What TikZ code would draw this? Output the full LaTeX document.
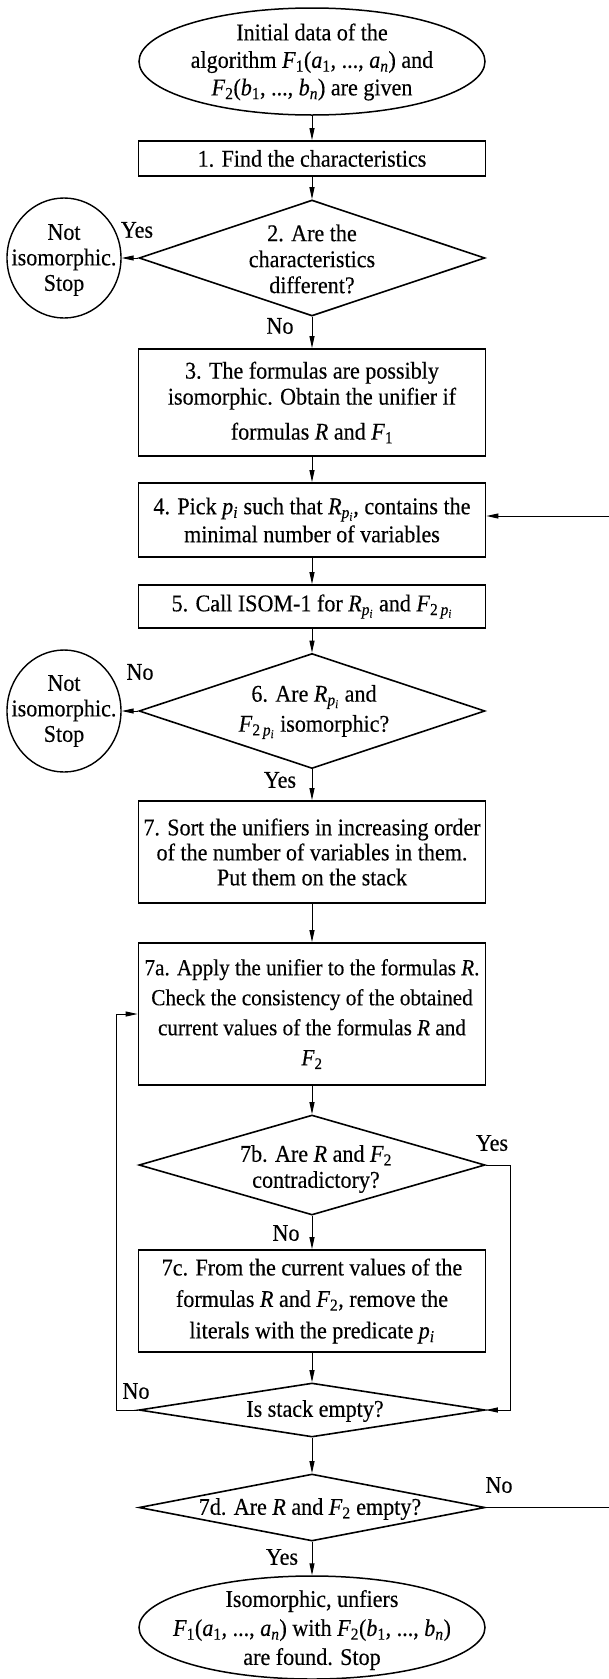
\documentclass[tikz,border=0pt]{standalone}
\usepackage{fontspec}
\setmainfont{Liberation Serif}[FakeStretch=0.92,FakeBold=0.3]
\usetikzlibrary{arrows.meta,shapes.geometric}
\newcommand{\myFa}{\textit{F}\textsubscript{1}}
\newcommand{\myFb}{\textit{F}\textsubscript{2}}
\newcommand{\mypi}{\textit{p}\textsubscript{\textit{i}}}
\newcommand{\myRp}{\textit{R}\textsubscript{\textit{p}\textsubscript{\textit{i}}}}
\newcommand{\myFbp}{\textit{F}\textsubscript{2\,\textit{p}\textsubscript{\textit{i}}}}
\newcommand{\myR}{\textit{R}}
\newcommand{\myargs}[1]{(\textit{#1}\textsubscript{1}, ..., \textit{#1}\textsubscript{\textit{n}})}
\tikzset{
  txt/.style={font=\fontsize{24}{26}\selectfont, align=center, inner sep=0pt},
  procbox/.style={txt, draw, line width=1.8pt, minimum width=347pt},
  decis/.style={draw, diamond, line width=1.6pt, minimum width=346pt, inner sep=0pt},
  term/.style={draw, ellipse, line width=1.5pt, minimum width=346pt, inner sep=0pt},
  stopc/.style={draw, ellipse, line width=1.4pt, minimum width=114pt, minimum height=120pt, inner sep=0pt},
  lbl/.style={font=\fontsize{24}{26}\selectfont, inner sep=0pt},
  arr/.style={line width=1pt, -{Triangle[length=12pt,width=5pt]}},
  ln/.style={line width=1pt},
}
\begin{document}
\begin{tikzpicture}[x=1pt,y=-1pt]
\useasboundingbox (0,0) rectangle (609,1679);
% shapes and texts
\node[term, minimum height=107pt] (start) at (312,61.5) {};
\node[txt, font=\fontsize{24}{27.5}\selectfont] (startt) at (312,62) {Initial data of the\\ algorithm \myFa\myargs{a} and\\ \myFb\myargs{b} are given};
\node[procbox, minimum height=35pt] (b1) at (312,158.5) {1. Find the characteristics};
\node[decis, minimum height=116pt] (d2) at (312,258) {};
\node[txt] (d2t) at (312,259) {2. Are the\\ characteristics\\ different?};
\node[stopc] (c1) at (64,258) {};
\node[txt, font=\fontsize{24}{25.5}\selectfont] (c1t) at (64,260) {Not\\ isomorphic.\\ Stop};
\node[procbox, minimum height=107pt] (b3) at (312,402.5) {3. The formulas are possibly\\ isomorphic. Obtain the unifier if\\[9pt] formulas \myR{} and \myFa};
\node[procbox, minimum height=74pt, font=\fontsize{24}{28}\selectfont] (b4) at (312,520) {4. Pick \mypi{} such that \myRp, contains the\\ minimal number of variables};
\node[procbox, minimum height=43pt] (b5) at (312,606.5) {5. Call ISOM-1 for \myRp{} and \myFbp};
\node[decis, minimum height=115pt] (d6) at (312,711) {};
\node[txt, font=\fontsize{24}{30}\selectfont] (d6t) at (314,712) {6. Are \myRp{} and\\ \myFbp{} isomorphic?};
\node[stopc, minimum height=122pt] (c2) at (64,711) {};
\node[txt, font=\fontsize{24}{25.5}\selectfont] (c2t) at (64,711) {Not\\ isomorphic.\\ Stop};
\node[procbox, minimum height=102pt, font=\fontsize{24}{25}\selectfont] (b7) at (312,852) {7. Sort the unifiers in increasing order\\ of the number of variables in them.\\ Put them on the stack};
\node[procbox, minimum height=142pt, font=\fontsize{23}{30}\selectfont] (b7a) at (312,1014) {7a. Apply the unifier to the formulas \myR.\\ Check the consistency of the obtained\\ current values of the formulas \myR{} and\\ \myFb};
\node[decis, minimum height=100pt] (d7b) at (312,1165) {};
\node[txt] (d7bt) at (316,1169) {7b. Are \myR{} and \myFb\\ contradictory?};
\node[procbox, minimum height=102pt, font=\fontsize{24}{31.5}\selectfont] (b7c) at (312,1301) {7c. From the current values of the\\ formulas \myR{} and \myFb, remove the\\ literals with the predicate \mypi};
\node[decis, minimum height=54pt] (ds) at (312,1410) {};
\node[txt] (dst) at (315,1411) {Is stack empty?};
\node[decis, minimum height=67pt] (d7d) at (312,1507.5) {};
\node[txt] (d7dt) at (310,1509) {7d. Are \myR{} and \myFb{} empty?};
\node[term, minimum height=103pt] (end) at (312,1627.5) {};
\node[txt, font=\fontsize{24}{29}\selectfont] (endt) at (312,1630) {Isomorphic, unfiers\\ \myFa\myargs{a} with \myFb\myargs{b}\\ are found. Stop};
% labels
\node[lbl] (y2) at (137,230) {Yes};
\node[lbl] (n2) at (280,326) {No};
\node[lbl] (n6) at (140,672) {No};
\node[lbl] (y6) at (280,780) {Yes};
\node[lbl] (y7b) at (492,1143) {Yes};
\node[lbl] (n7b) at (286,1233) {No};
\node[lbl] (nds) at (136,1391) {No};
\node[lbl] (n7d) at (499,1485) {No};
\node[lbl] (y7d) at (282,1557) {Yes};
\coordinate (r4) at (612,516);
\coordinate (r7d) at (612,1507.5);
% connectors
\draw[arr] (start.south) -- (b1.north);
\draw[arr] (b1.south) -- (d2.north);
\draw[arr] (d2.west) -- (c1.east);
\draw[arr] (d2.south) -- (b3.north);
\draw[arr] (b3.south) -- (b4.north);
\draw[arr] (r4) -- (r4 -| b4.east);
\draw[arr] (b4.south) -- (b5.north);
\draw[arr] (b5.south) -- (d6.north);
\draw[arr] (d6.west) -- (c2.east);
\draw[arr] (d6.south) -- (b7.north);
\draw[arr] (b7.south) -- (b7a.north);
\draw[arr] (b7a.south) -- (d7b.north);
\draw[arr] (d7b.south) -- (b7c.north);
\draw[arr] (d7b.east) -- ++(25,0) |- (ds.east);
\draw[arr] (b7c.south) -- (ds.north);
\draw[arr] (ds.west) -- ++(-22,0) |- (b7a.west);
\draw[arr] (ds.south) -- (d7d.north);
\draw[ln] (d7d.east) -- (r7d);
\draw[arr] (d7d.south) -- (end.north);
\end{tikzpicture}
\end{document}
